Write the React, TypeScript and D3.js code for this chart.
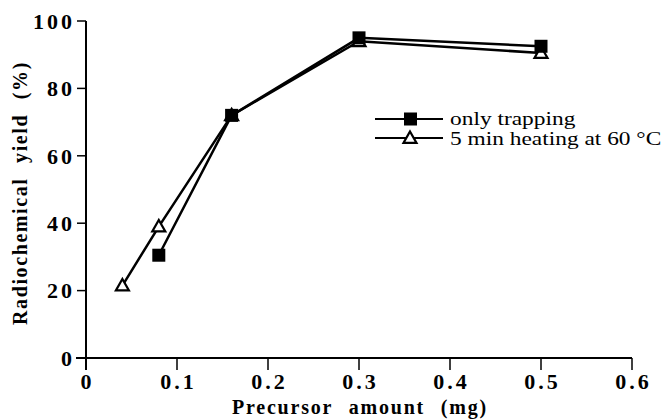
import React from "react";
import * as d3 from "d3";

const trapX = [0.08, 0.16, 0.3, 0.5];
const trapY = [30.5, 72, 95, 92.5];
const heatX = [0.04, 0.08, 0.16, 0.3, 0.5];
const heatY = [21.5, 39, 72, 94, 90.5];
const xTicks = [0, 0.1, 0.2, 0.3, 0.4, 0.5, 0.6];
const yTicks = [0, 20, 40, 60, 80, 100];
const legendLabels = ["only trapping", "5 min heating at 60 °C"];

export default function App() {
  const x = d3.scaleLinear().domain([0, 0.6]).range([86, 632]);
  const y = d3.scaleLinear().domain([0, 100]).range([358, 21]);
  const line = d3.line<[number, number]>().x((d) => x(d[0])).y((d) => y(d[1]));
  const trap: [number, number][] = trapX.map((v, i) => [v, trapY[i]]);
  const heat: [number, number][] = heatX.map((v, i) => [v, heatY[i]]);
  const ff = { fontFamily: "Liberation Serif" };
  const tri = (cx: number, cy: number) => {
    const s = 6.5;
    return `M${cx},${cy - s}L${cx + s},${cy + s * 0.75}L${cx - s},${cy + s * 0.75}Z`;
  };
  return (
    <svg width={665} height={419} style={{ position: "absolute", left: 0, top: 0, background: "#fff" }}>
      {/* axes */}
      <line x1={x(0)} x2={x(0)} y1={y(100)} y2={370} stroke="#000" strokeWidth={2} />
      <line x1={76} x2={x(0.6)} y1={y(0)} y2={y(0)} stroke="#000" strokeWidth={2} />
      {yTicks.map((t) => (
        <g key={"y" + t}>
          <line x1={77} x2={x(0)} y1={y(t)} y2={y(t)} stroke="#000" strokeWidth={1.5} />
          <text x={75} y={y(t)} dy="0.35em" textAnchor="end" style={ff} fontWeight="bold" fontSize={22} letterSpacing={3}>
            {t}
          </text>
        </g>
      ))}
      {xTicks.map((t) => (
        <g key={"x" + t}>
          <line x1={x(t)} x2={x(t)} y1={y(0)} y2={370} stroke="#000" strokeWidth={1.5} />
          <text x={x(t) + 1.5} y={389} textAnchor="middle" style={ff} fontWeight="bold" fontSize={22} letterSpacing={3}>
            {t === 0 ? "0" : d3.format(".1f")(t)}
          </text>
        </g>
      ))}
      <text x={360} y={414} textAnchor="middle" style={ff} fontWeight="bold" fontSize={20} wordSpacing={9} letterSpacing={1.8}>
        Precursor amount (mg)
      </text>
      <text transform="translate(27,193) rotate(-90)" textAnchor="middle" style={ff} fontWeight="bold" fontSize={20} wordSpacing={8} letterSpacing={1.6}>
        Radiochemical yield (%)
      </text>
      {/* series */}
      <path d={line(heat) || ""} fill="none" stroke="#000" strokeWidth={2.5} />
      <path d={line(trap) || ""} fill="none" stroke="#000" strokeWidth={2.5} />
      {heat.map((d, i) => (
        <path key={"h" + i} d={tri(x(d[0]), y(d[1]))} fill="#fff" stroke="#000" strokeWidth={2.2} />
      ))}
      {trap.map((d, i) => (
        <rect key={"t" + i} x={x(d[0]) - 6.5} y={y(d[1]) - 6.5} width={13} height={13} fill="#000" />
      ))}
      {/* legend */}
      <line x1={375} x2={443} y1={119} y2={119} stroke="#000" strokeWidth={2} />
      <rect x={404} y={112.5} width={13} height={13} fill="#000" />
      <text transform="translate(450,125) scale(1.3,1)" style={ff} fontSize={18}>{legendLabels[0]}</text>
      <line x1={375} x2={443} y1={138} y2={138} stroke="#000" strokeWidth={2} />
      <path d={tri(410, 138)} fill="#fff" stroke="#000" strokeWidth={2.2} />
      <text transform="translate(450,145) scale(1.3,1)" style={ff} fontSize={18}>{legendLabels[1]}</text>
    </svg>
  );
}
